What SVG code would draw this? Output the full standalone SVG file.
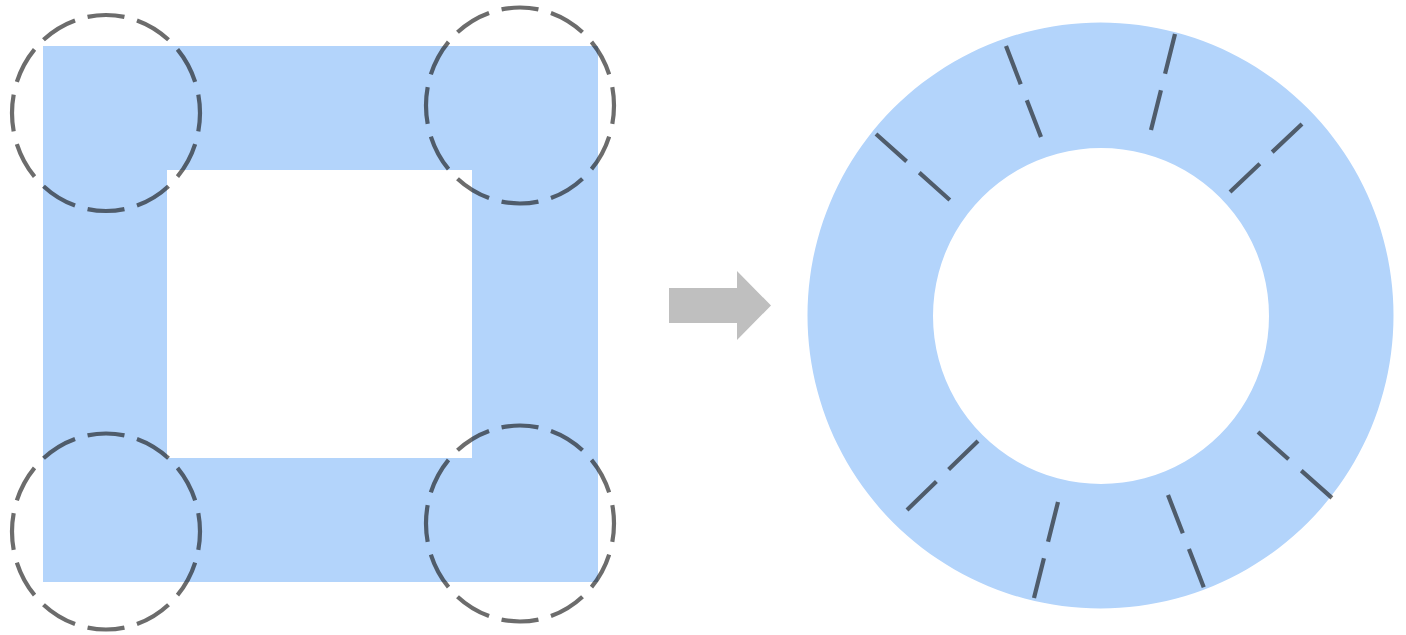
<svg xmlns="http://www.w3.org/2000/svg" width="1406" height="635" viewBox="0 0 1406 635">
<style>
.fill{fill:#b3d4fb;fill-rule:evenodd}
.ring{fill:none;stroke:#111;stroke-opacity:0.62;stroke-width:4.2;stroke-dasharray:37 13;stroke-dashoffset:18.5}
.cut{stroke:#111;stroke-opacity:0.62;stroke-width:4.2;stroke-dasharray:41 17;fill:none}
</style>
<rect width="1406" height="635" fill="#fff"/>
<g id="square">
<path class="fill" d="M43 46H598V582H43Z M167 170V458H472V170Z"/>
</g>
<g id="corners">
<ellipse id="c-tl" class="ring" pathLength="600" cx="106" cy="113" rx="94" ry="98"/>
<ellipse id="c-tr" class="ring" pathLength="600" cx="520" cy="105.5" rx="94" ry="98"/>
<ellipse id="c-bl" class="ring" pathLength="600" cx="106" cy="531.5" rx="94" ry="98"/>
<ellipse id="c-br" class="ring" pathLength="600" cx="520" cy="523.5" rx="94" ry="98"/>
</g>
<g id="arrow">
<path d="M669 288H737V271L771 305.5L737 340V323H669Z" fill="#bfbfbf"/>
</g>
<g id="donut">
<path class="fill" d="M1100.5 22.5A293 293 0 1 1 1100.49 22.5Z M1101 148A168 168 0 1 0 1101.01 148Z"/>
</g>
<g id="cuts">
<line class="cut" x1="876" y1="134" x2="951" y2="201"/>
<line class="cut" x1="1006" y1="46" x2="1041" y2="137"/>
<line class="cut" x1="1175" y1="34" x2="1151" y2="130"/>
<line class="cut" x1="1302" y1="124" x2="1230" y2="192"/>
<line class="cut" x1="978" y1="441" x2="907" y2="510"/>
<line class="cut" x1="1058" y1="502" x2="1034" y2="598"/>
<line class="cut" x1="1168" y1="495" x2="1204" y2="588"/>
<line class="cut" x1="1258" y1="432" x2="1332" y2="498"/>
</g>
</svg>
